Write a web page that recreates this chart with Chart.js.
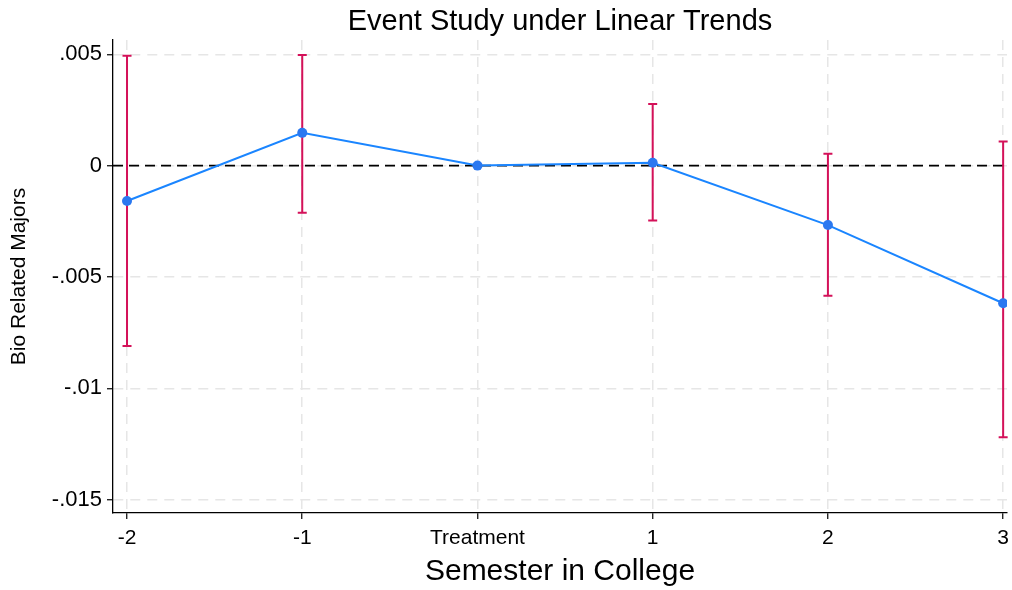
<!DOCTYPE html>
<html>
<head>
<meta charset="utf-8">
<script src="https://cdn.jsdelivr.net/npm/chart.js@4"></script>
<style>
  html, body { margin: 0; padding: 0; background: #fff; }
  #wrap { width: 1012px; height: 590px; }
</style>
</head>
<body>
<div id="wrap"><canvas id="eventChart"></canvas></div>
<script>
'use strict'

// event time (0 = treatment semester)
const periods = [-2, -1, 0, 1, 2, 3]
const periodLabels = ['-2', '-1', 'Treatment', '1', '2', '3']
const coefs = [-0.00159, 0.00147, 0, 0.00013, -0.00267, -0.00618]
const ciLow = [-0.0081, -0.00212, 0, -0.00247, -0.00585, -0.0122]
const ciHigh = [0.00493, 0.00497, 0, 0.00277, 0.00053, 0.00108]
const yTicks = [-0.015, -0.01, -0.005, 0, 0.005]
const yTickLabels = ['-.015', '-.01', '-.005', '0', '.005']
const chartTitle = 'Event Study under Linear Trends'

const FONT = "'Liberation Sans', Arial, sans-serif"

// zero reference line + confidence intervals, drawn through the scales
const ciPlugin = {
  id: 'ciBars',
  beforeDatasetsDraw(chart) {
    const { ctx, chartArea, scales } = chart
    const xs = scales.x, ys = scales.y
    ctx.save()
    const y0 = ys.getPixelForValue(0)
    ctx.strokeStyle = '#000'
    ctx.lineWidth = 1.6
    ctx.setLineDash([10, 6])
    ctx.beginPath()
    ctx.moveTo(chartArea.left, y0)
    ctx.lineTo(chartArea.right, y0)
    ctx.stroke()
    ctx.setLineDash([])

    ctx.strokeStyle = '#d41159'
    ctx.lineWidth = 2
    periods.forEach((p, i) => {
      if (ciLow[i] === ciHigh[i]) return
      const x = xs.getPixelForValue(p)
      const yl = ys.getPixelForValue(ciLow[i])
      const yh = ys.getPixelForValue(ciHigh[i])
      ctx.beginPath()
      ctx.moveTo(x, yl); ctx.lineTo(x, yh)
      ctx.moveTo(x - 4.5, yl); ctx.lineTo(x + 4.5, yl)
      ctx.moveTo(x - 4.5, yh); ctx.lineTo(x + 4.5, yh)
      ctx.stroke()
    })
    ctx.restore()
  },
  // title centred over the plot region, like stata does
  afterDraw(chart) {
    const { ctx, chartArea } = chart
    ctx.save()
    ctx.fillStyle = '#000'
    ctx.font = '29px ' + FONT
    ctx.textAlign = 'center'
    ctx.textBaseline = 'alphabetic'
    ctx.fillText(chartTitle, (chartArea.left + chartArea.right) / 2, 30)
    ctx.restore()
  }
}

const ctx = document.getElementById('eventChart').getContext('2d')
const chart = new Chart(ctx, {
  type: 'line',
  data: {
    datasets: [{
      label: 'Bio Related Majors',
      data: periods.map((p, i) => ({ x: p, y: coefs[i] })),
      borderColor: '#1a85ff',
      backgroundColor: '#2a78f0',
      borderWidth: 2,
      pointRadius: 5,
      pointBorderWidth: 0,
      tension: 0
    }]
  },
  options: {
    responsive: true,
    maintainAspectRatio: false,
    animation: false,
    layout: { padding: { left: 0, right: 1, top: 40, bottom: 0 } },
    plugins: {
      legend: { display: false },
      tooltip: { enabled: false },
      title: { display: false }
    },
    scales: {
      x: {
        type: 'linear',
        min: -2.08,
        max: 3.022,
        afterBuildTicks: axis => { axis.ticks = periods.map(v => ({ value: v })) },
        afterFit: axis => {
          axis.height = 77
          axis.paddingLeft = 0
          axis.paddingRight = 0
        },
        ticks: {
          color: '#000',
          font: { family: FONT, size: 21 },
          padding: 7,
          maxRotation: 0,
          callback: v => periodLabels[periods.indexOf(v)]
        },
        grid: {
          color: '#e6e6e6',
          lineWidth: 1.5,
          tickLength: 6,
          tickColor: '#000',
          tickWidth: 1.2
        },
        border: { display: true, color: '#000', width: 1.3, dash: [10, 7] },
        title: {
          display: true,
          text: 'Semester in College',
          color: '#000',
          font: { family: FONT, size: 30 },
          padding: { top: 0, bottom: 0 }
        }
      },
      y: {
        min: -0.0156,
        max: 0.00564,
        afterBuildTicks: axis => { axis.ticks = yTicks.map(v => ({ value: v })) },
        afterFit: axis => { axis.width = 113 },
        ticks: {
          color: '#000',
          font: { family: FONT, size: 22 },
          padding: 5,
          callback: v => yTickLabels[yTicks.indexOf(v)]
        },
        grid: {
          color: '#e6e6e6',
          lineWidth: 1.5,
          tickLength: 6,
          tickColor: '#000',
          tickWidth: 1.2
        },
        border: { display: true, color: '#000', width: 1.3, dash: [10, 7] },
        title: {
          display: true,
          text: 'Bio Related Majors',
          color: '#000',
          font: { family: FONT, size: 21 },
          padding: { top: 7, bottom: 4 }
        }
      }
    }
  },
  plugins: [ciPlugin]
})
</script>
</body>
</html>
